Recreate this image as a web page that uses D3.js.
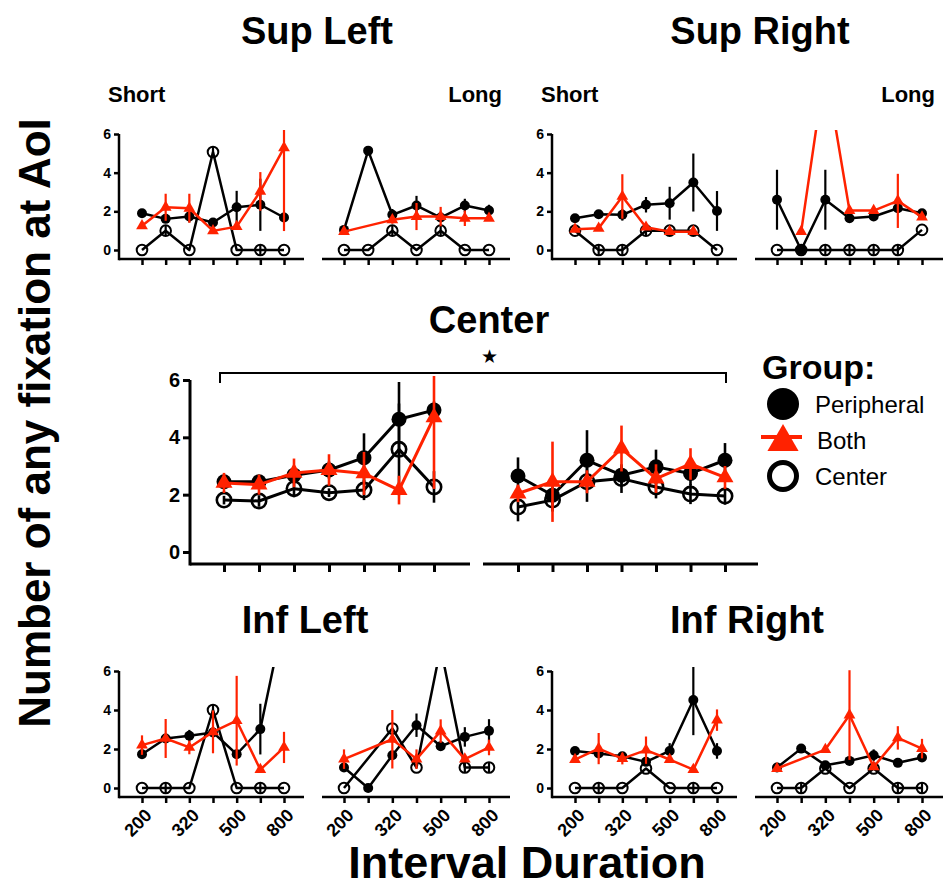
<!DOCTYPE html>
<html>
<head>
<meta charset="utf-8">
<script src="https://cdn.jsdelivr.net/npm/d3@7"></script>
<style>
  body { margin: 0; background: #fff; }
  text { font-family: "Liberation Sans", Arial, sans-serif; }
</style>
</head>
<body>
<script>
// interval durations (ms), only some are labelled on the axis
const intervals = [200, 250, 320, 400, 500, 640, 800];
const shownLabels = [200, 320, 500, 800];
const groups = ["Peripheral", "Both", "Center"];

// each entry is [mean, sem], null = no data
const supLeftShortPer  = [[1.9,0.15],[1.61,0.15],[1.73,0.3],[1.42,0.2],[2.21,0.85],[2.34,1.35],[1.68,0]];
const supLeftShortBoth = [[1.25,0],[2.21,0.7],[2.16,0.75],[0.99,0],[1.21,0],[3.03,1.0],[5.28,4.3]];
const supLeftShortCen  = [[0,0],[1,0.28],[0,0],[5.07,0.28],[0,0],[0,0.28],[0,0]];
const supLeftLongPer   = [[1.04,0],[5.14,0],[1.82,0.3],[2.3,0.5],[1.68,0.2],[2.3,0.35],[2.04,0.3]];
const supLeftLongBoth  = [[0.95,0],null,[1.56,0.2],[1.73,0.7],[1.73,0.5],[1.64,0.4],[1.64,0]];
const supLeftLongCen   = [[0,0],[0,0],[1,0.28],[0,0],[1,0.28],[0,0],[0,0]];

const supRightShortPer  = [[1.64,0],[1.85,0.1],[1.82,0.3],[2.34,0.4],[2.42,0.85],[3.49,1.5],[2.02,1.03]];
const supRightShortBoth = [[1.07,0],[1.12,0],[2.77,1.15],[1.18,0],[0.95,0],[0.95,0],null];
const supRightShortCen  = [[1,0],[0,0.28],[0,0.28],[1,0.28],[1,0],[1,0],[0,0]];
const supRightLongPer   = [[2.6,1.55],[0,0],[2.6,1.55],[1.64,0],[1.73,0.2],[2.16,0],[1.9,0]];
const supRightLongBoth  = [null,[0.95,0],[9.5,0],[2.04,0],[2.04,0],[2.54,1.4],[1.7,0]];
const supRightLongCen   = [[0,0],[0,0],[0,0.28],[0,0.28],[0,0.28],[0,0.28],[1.04,0]];

const centerShortPer  = [[2.45,0.2],[2.45,0.2],[2.68,0.3],[2.86,0.3],[3.29,0.85],[4.63,1.3],[4.95,0.3]];
const centerShortBoth = [[2.41,0.35],[2.35,0.35],[2.76,0.5],[2.86,0.55],[2.74,0.75],[2.16,0.5],[4.7,2.5]];
const centerShortCen  = [[1.81,0.15],[1.78,0.2],[2.21,0.3],[2.07,0.15],[2.16,0.35],[3.58,1.6],[2.27,0.55]];
const centerLongPer   = [[2.65,0.65],[1.98,0.3],[3.2,1.05],[2.68,0.3],[2.97,0.6],[2.74,0.4],[3.2,0.6]];
const centerLongBoth  = [[2.04,0.3],[2.45,1.4],[2.45,0.4],[3.61,0.8],[2.56,0.5],[3.07,0.55],[2.6,0.4]];
const centerLongCen   = [[1.57,0.5],[1.81,0.4],[2.45,0.7],[2.56,0.5],[2.27,0.4],[2.02,0.35],[1.95,0.3]];

const infLeftShortPer  = [[1.73,0],[2.54,0.1],[2.68,0.3],[2.85,0.2],[1.73,0],[3.02,1.3],[8.8,0]];
const infLeftShortBoth = [[2.2,0.5],[2.54,1.0],[2.08,0.35],[2.88,1.1],[3.45,2.3],[0.94,0],[2.08,0.8]];
const infLeftShortCen  = [[0,0],[0,0.28],[0,0],[4,0.28],[0,0],[0,0.28],[0,0]];
const infLeftLongPer   = [[1.05,0],[0,0],[1.68,0],[3.22,0.6],[2.14,0.2],[2.62,0.5],[2.93,0.6]];
const infLeftLongBoth  = [[1.48,0.5],null,[2.5,1.5],[1.48,0.5],[2.92,0.6],[1.48,0],[2.08,0.4]];
const infLeftLongCen   = [[0,0],null,[3.05,0],[1.05,0],[7.2,0],[1.05,0.28],[1.05,0.28]];

const infRightShortPer  = [[1.9,0.2],[1.77,0],[1.63,0],[1.34,0],[1.9,0.4],[4.51,1.8],[1.9,0.4]];
const infRightShortBoth = [[1.46,0],[2.02,0.8],[1.51,0.3],[1.94,0.7],[1.46,0],[0.94,0],[3.48,0.55]];
const infRightShortCen  = [[0,0],[0,0.28],[0,0],[1,0],[0,0],[0,0.28],[0,0]];
const infRightLongPer   = [[1.05,0],[2.02,0],[1.17,0],[1.39,0],[1.68,0.3],[1.29,0],[1.56,0.1]];
const infRightLongBoth  = [[1.0,0],null,[1.97,0],[3.74,2.3],[1.08,0],[2.57,0.6],[2.02,0.5]];
const infRightLongCen   = [[0,0],[0,0.28],[1,0],[0,0],[1,0],[0,0.28],[0,0.28]];

const red = "#ff2200";
const W = 943, H = 888;

const svg = d3.select("body").append("svg")
  .attr("width", W)
  .attr("height", H)
  .attr("viewBox", `0 0 ${W} ${H}`);

const small = { r: 5, ro: 5.3, ow: 2, tri: 60, line: 2.5, err: 2.2, axis: 2.5, tick: 6, ytick: 5, font: 14, lab: 18 };
const big   = { r: 7.5, ro: 7.2, ow: 2.6, tri: 125, line: 3, err: 2.6, axis: 3, tick: 8, ytick: 7, font: 20, lab: 18 };

let clipId = 0;

function drawHalf(cfg, series, s) {
  const x = d3.scalePoint().domain(intervals).range([cfg.tick0, cfg.tick1]);
  const y = d3.scaleLinear().domain([0, 6]).range([cfg.y0, cfg.y6]);
  const g = svg.append("g");

  // x axis
  const ax = g.append("g")
    .attr("transform", `translate(0,${cfg.axisY})`)
    .call(d3.axisBottom(x).tickSize(s.tick)
      .tickFormat(d => cfg.labels && shownLabels.includes(d) ? d : ""));
  ax.select(".domain").remove();
  ax.selectAll(".tick line").attr("stroke-width", s.axis);
  ax.selectAll(".tick text")
    .attr("x", 0).attr("y", 0).attr("dy", "0.35em")
    .attr("transform", "translate(6,15) rotate(-45)")
    .attr("text-anchor", "end")
    .attr("font-size", s.lab)
    .attr("font-weight", "bold")
    .attr("font-family", "Liberation Sans, Arial, sans-serif");
  g.append("line")
    .attr("x1", cfg.axisX0).attr("x2", cfg.axisX1)
    .attr("y1", cfg.axisY).attr("y2", cfg.axisY)
    .attr("stroke", "#000").attr("stroke-width", s.axis);

  // y axis only on the short half
  if (cfg.yAxis) {
    const ay = g.append("g")
      .attr("transform", `translate(${cfg.axisX0},0)`)
      .call(d3.axisLeft(y).tickValues([0, 2, 4, 6]).tickFormat(d3.format("d"))
        .tickSize(s.ytick).tickSizeOuter(0));
    ay.select(".domain").remove();
    ay.selectAll(".tick line").attr("stroke-width", s.axis);
    ay.selectAll(".tick text")
      .attr("font-size", s.font)
      .attr("font-weight", "bold")
      .attr("font-family", "Liberation Sans, Arial, sans-serif");
    g.append("line")
      .attr("x1", cfg.axisX0).attr("x2", cfg.axisX0)
      .attr("y1", cfg.axisY + s.axis / 2).attr("y2", y(6))
      .attr("stroke", "#000").attr("stroke-width", s.axis);
  }

  // clip so big values run off the top like the original
  const id = "clip" + (clipId++);
  g.append("clipPath").attr("id", id).append("rect")
    .attr("x", cfg.axisX0 - 20).attr("y", y(6) - 4)
    .attr("width", cfg.axisX1 - cfg.axisX0 + 40)
    .attr("height", cfg.axisY - y(6) + 4);
  const plot = g.append("g").attr("clip-path", `url(#${id})`);

  const line = d3.line().x(d => x(d.x)).y(d => y(d.m));

  // draw order: Center, Peripheral, Both (red on top)
  [["Center", series.Center], ["Peripheral", series.Peripheral], ["Both", series.Both]].forEach(([name, vals]) => {
    const pts = vals.map((v, i) => v ? { x: intervals[i], m: v[0], e: v[1] } : null).filter(d => d);
    const col = name === "Both" ? red : "#000";

    plot.selectAll(null).data(pts.filter(d => d.e > 0)).join("line")
      .attr("x1", d => x(d.x)).attr("x2", d => x(d.x))
      .attr("y1", d => y(d.m - d.e)).attr("y2", d => y(d.m + d.e))
      .attr("stroke", col).attr("stroke-width", s.err);

    plot.append("path").datum(pts)
      .attr("d", line)
      .attr("fill", "none")
      .attr("stroke", col)
      .attr("stroke-width", s.line)
      .attr("stroke-linejoin", "round");

    if (name === "Peripheral") {
      plot.selectAll(null).data(pts).join("circle")
        .attr("cx", d => x(d.x)).attr("cy", d => y(d.m)).attr("r", s.r)
        .attr("fill", "#000");
    } else if (name === "Both") {
      plot.selectAll(null).data(pts).join("path")
        .attr("d", d3.symbol(d3.symbolTriangle, s.tri))
        .attr("transform", d => `translate(${x(d.x)},${y(d.m)})`)
        .attr("fill", red);
    } else {
      plot.selectAll(null).data(pts).join("circle")
        .attr("cx", d => x(d.x)).attr("cy", d => y(d.m)).attr("r", s.ro)
        .attr("fill", "none").attr("stroke", "#000").attr("stroke-width", s.ow);
    }
  });
}

function smallPanel(x0, y6, y0, axisY, labels, shortData, longData) {
  drawHalf({ axisX0: x0, axisX1: x0 + 185, tick0: x0 + 23, tick1: x0 + 165,
             y6, y0, axisY, labels, yAxis: true }, shortData, small);
  drawHalf({ axisX0: x0 + 203, axisX1: x0 + 391, tick0: x0 + 225, tick1: x0 + 370,
             y6, y0, axisY, labels, yAxis: false }, longData, small);
}

smallPanel(119, 134, 250, 259, false,
  { Peripheral: supLeftShortPer, Both: supLeftShortBoth, Center: supLeftShortCen },
  { Peripheral: supLeftLongPer, Both: supLeftLongBoth, Center: supLeftLongCen });
smallPanel(552, 134, 250, 259, false,
  { Peripheral: supRightShortPer, Both: supRightShortBoth, Center: supRightShortCen },
  { Peripheral: supRightLongPer, Both: supRightLongBoth, Center: supRightLongCen });
smallPanel(119, 671, 788, 797, true,
  { Peripheral: infLeftShortPer, Both: infLeftShortBoth, Center: infLeftShortCen },
  { Peripheral: infLeftLongPer, Both: infLeftLongBoth, Center: infLeftLongCen });
smallPanel(552, 671, 788, 797, true,
  { Peripheral: infRightShortPer, Both: infRightShortBoth, Center: infRightShortCen },
  { Peripheral: infRightLongPer, Both: infRightLongBoth, Center: infRightLongCen });

// center panel
drawHalf({ axisX0: 190, axisX1: 470, tick0: 224, tick1: 434, y6: 380, y0: 552, axisY: 564,
           labels: false, yAxis: true },
  { Peripheral: centerShortPer, Both: centerShortBoth, Center: centerShortCen }, big);
drawHalf({ axisX0: 483, axisX1: 758, tick0: 518, tick1: 725, y6: 380, y0: 552, axisY: 564,
           labels: false, yAxis: false },
  { Peripheral: centerLongPer, Both: centerLongBoth, Center: centerLongCen }, big);

// significance bracket
svg.append("path")
  .attr("d", "M220,383V373H726V383")
  .attr("fill", "none").attr("stroke", "#000").attr("stroke-width", 2);
svg.append("text").attr("x", 489).attr("y", 363).attr("text-anchor", "middle")
  .attr("font-size", 19).text("★");

// titles
function title(txt, x, y, size, anchor) {
  svg.append("text").attr("x", x).attr("y", y)
    .attr("text-anchor", anchor || "middle")
    .attr("font-size", size).attr("font-weight", "bold")
    .text(txt);
}
title("Sup Left", 317, 44, 38);
title("Sup Right", 760, 44, 38);
title("Center", 489, 333, 38);
title("Inf Left", 305, 633, 38);
title("Inf Right", 747, 633, 38);
title("Short", 108, 102, 22, "start");
title("Long", 502, 102, 22, "end");
title("Short", 541, 102, 22, "start");
title("Long", 935, 102, 22, "end");
title("Interval Duration", 527, 878, 45);

svg.append("text")
  .attr("transform", "translate(50,423) rotate(-90)")
  .attr("text-anchor", "middle")
  .attr("font-size", 44).attr("font-weight", "bold")
  .text("Number of any fixation at AoI");

// legend
const lg = svg.append("g");
lg.append("text").attr("x", 762).attr("y", 379)
  .attr("font-size", 34).attr("font-weight", "bold").text("Group:");
const legRows = [404, 440, 476];
groups.forEach((name, i) => {
  const cy = legRows[i];
  if (name === "Peripheral") {
    lg.append("circle").attr("cx", 783).attr("cy", cy).attr("r", 16).attr("fill", "#000");
  } else if (name === "Both") {
    lg.append("line").attr("x1", 761).attr("x2", 802).attr("y1", cy - 3).attr("y2", cy - 3)
      .attr("stroke", red).attr("stroke-width", 4);
    lg.append("path").attr("d", d3.symbol(d3.symbolTriangle, 420))
      .attr("transform", `translate(783,${cy + 2})`).attr("fill", red);
  } else {
    lg.append("circle").attr("cx", 783).attr("cy", cy).attr("r", 13.5)
      .attr("fill", "none").attr("stroke", "#000").attr("stroke-width", 5);
  }
  lg.append("text").attr("x", i === 1 ? 817 : 815).attr("y", cy + 9)
    .attr("font-size", 24).text(name);
});
</script>
</body>
</html>
